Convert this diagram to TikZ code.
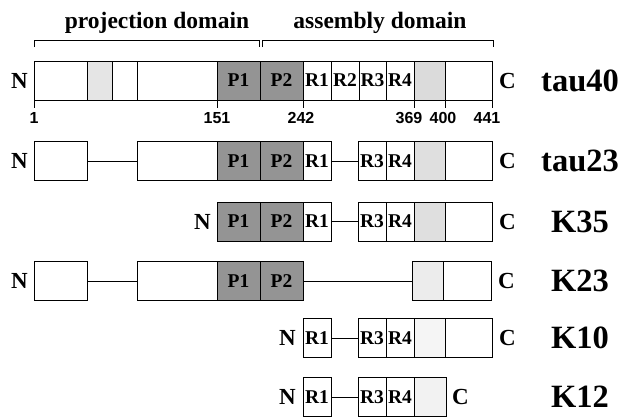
\documentclass[tikz,border=0pt]{standalone}
\usepackage{fontspec}
\setmainfont{Liberation Serif}
\newfontfamily\numfont{Liberation Sans}
\usetikzlibrary{positioning}

\begin{document}
\begin{tikzpicture}[x=1pt, y=-1pt,
    seg/.style = {draw, line width=1pt, minimum height=39pt, inner sep=0pt, outer sep=0pt,
      font=\bfseries\fontsize{19.5}{19.5}\selectfont},
    pdom/.style = {seg, fill=black!42},
    spk/.style = {seg, fill=gray!#1},
    link/.style = {line width=1pt},
    endlab/.style = {inner sep=0pt, font=\bfseries\fontsize{23}{23}\selectfont},
    protlab/.style = {inner sep=0pt, font=\bfseries\fontsize{32.5}{32.5}\selectfont},
    numlab/.style = {inner sep=0pt, font=\numfont\bfseries\fontsize{16}{16}\selectfont},
    headlab/.style = {inner sep=0pt, font=\bfseries\fontsize{23.5}{23.5}\selectfont}]
    \useasboundingbox (0,0) rectangle (621,418);

    % domains
    \node[headlab, anchor=base] (proj) at (157,28) {projection domain};
    \node[headlab, anchor=base] (asm) at (380,28) {assembly domain};
    \draw[line width=0.8pt] (34,47) -- (34,40) -- (259,40) -- (259,47);
    \draw[line width=0.8pt] (262,47) -- (262,40) -- (493,40) -- (493,47);

    % tau40
    \node[seg, minimum width=53pt, anchor=west] (a-1) at (34,80.5) {};
    \node[spk=20, minimum width=25pt, right=0pt of a-1] (a-2) {};
    \node[seg, minimum width=25pt, right=0pt of a-2] (a-3) {};
    \node[seg, minimum width=80pt, right=0pt of a-3] (a-4) {};
    \node[pdom, minimum width=43pt, right=0pt of a-4] (a-p1) {P1};
    \node[pdom, minimum width=43pt, right=0pt of a-p1] (a-p2) {P2};
    \node[seg, minimum width=28pt, right=0pt of a-p2] (a-r1) {R1};
    \node[seg, minimum width=28pt, right=0pt of a-r1] (a-r2) {R2};
    \node[seg, minimum width=27pt, right=0pt of a-r2] (a-r3) {R3};
    \node[seg, minimum width=28pt, right=0pt of a-r3] (a-r4) {R4};
    \node[spk=28, minimum width=31pt, right=0pt of a-r4] (a-g) {};
    \node[seg, minimum width=47pt, right=0pt of a-g] (a-5) {};
    \node[endlab, left=6pt of a-1] (a-n) {N};
    \node[endlab, right=7pt of a-5] (a-c) {C};
    \node[protlab] (a-name) at (580,80.5) {tau40};

    % residue numbers
    \draw[link] (a-1.south west) -- ++(0,8) node[numlab, below=4pt] (n1) {1};
    \draw[link] (a-p1.south west) -- ++(0,8) node[numlab, below=4pt] (n151) {151};
    \draw[link] (a-r1.south west) -- ++(0,8) node[numlab, below=4pt, xshift=-2pt] (n242) {242};
    \draw[link] (a-g.south west) -- ++(0,8) node[numlab, below=4pt, xshift=-5pt] (n369) {369};
    \draw[link] (a-5.south west) -- ++(0,8) node[numlab, below=4pt, xshift=-2pt] (n400) {400};
    \draw[link] (a-5.south east) -- ++(0,8) node[numlab, below=4pt, xshift=-5pt] (n441) {441};

    % tau23
    \node[seg, minimum width=53pt, anchor=west] (b-1) at (34,161) {};
    \node[seg, minimum width=80pt, right=50pt of b-1] (b-2) {};
    \node[pdom, minimum width=43pt, right=0pt of b-2] (b-p1) {P1};
    \node[pdom, minimum width=43pt, right=0pt of b-p1] (b-p2) {P2};
    \node[seg, minimum width=28pt, right=0pt of b-p2] (b-r1) {R1};
    \node[seg, minimum width=28pt, right=27pt of b-r1] (b-r3) {R3};
    \node[seg, minimum width=28pt, right=0pt of b-r3] (b-r4) {R4};
    \node[spk=25, minimum width=31pt, right=0pt of b-r4] (b-g) {};
    \node[seg, minimum width=47pt, right=0pt of b-g] (b-5) {};
    \node[endlab, left=6pt of b-1] (b-n) {N};
    \node[endlab, right=7pt of b-5] (b-c) {C};
    \node[protlab] (b-name) at (580,161) {tau23};
    \draw[link] (b-1) -- (b-2);
    \draw[link] (b-r1) -- (b-r3);

    % K35
    \node[pdom, minimum width=43pt, anchor=west] (c-p1) at (217,221.5) {P1};
    \node[pdom, minimum width=43pt, right=0pt of c-p1] (c-p2) {P2};
    \node[seg, minimum width=28pt, right=0pt of c-p2] (c-r1) {R1};
    \node[seg, minimum width=28pt, right=27pt of c-r1] (c-r3) {R3};
    \node[seg, minimum width=28pt, right=0pt of c-r3] (c-r4) {R4};
    \node[spk=25, minimum width=31pt, right=0pt of c-r4] (c-g) {};
    \node[seg, minimum width=47pt, right=0pt of c-g] (c-5) {};
    \node[endlab, left=6pt of c-p1] (c-n) {N};
    \node[endlab, right=7pt of c-5] (c-c) {C};
    \node[protlab] (c-name) at (580,221.5) {K35};
    \draw[link] (c-r1) -- (c-r3);

    % K23
    \node[seg, minimum width=53pt, anchor=west] (d-1) at (34,281) {};
    \node[seg, minimum width=80pt, right=50pt of d-1] (d-2) {};
    \node[pdom, minimum width=43pt, right=0pt of d-2] (d-p1) {P1};
    \node[pdom, minimum width=43pt, right=0pt of d-p1] (d-p2) {P2};
    \node[spk=15, minimum width=31pt, right=109pt of d-p2] (d-g) {};
    \node[seg, minimum width=48pt, right=0pt of d-g] (d-5) {};
    \node[endlab, left=6pt of d-1] (d-n) {N};
    \node[endlab, right=7pt of d-5] (d-c) {C};
    \node[protlab] (d-name) at (580,281) {K23};
    \draw[link] (d-1) -- (d-2);
    \draw[link] (d-p2) -- (d-g);

    % K10
    \node[seg, minimum width=28pt, anchor=west] (e-r1) at (303,338) {R1};
    \node[seg, minimum width=28pt, right=27pt of e-r1] (e-r3) {R3};
    \node[seg, minimum width=28pt, right=0pt of e-r3] (e-r4) {R4};
    \node[spk=8, minimum width=31pt, right=0pt of e-r4] (e-g) {};
    \node[seg, minimum width=47pt, right=0pt of e-g] (e-5) {};
    \node[endlab, left=7pt of e-r1] (e-n) {N};
    \node[endlab, right=7pt of e-5] (e-c) {C};
    \node[protlab] (e-name) at (580,338) {K10};
    \draw[link] (e-r1) -- (e-r3);

    % K12
    \node[seg, minimum width=28pt, anchor=west] (f-r1) at (303,397) {R1};
    \node[seg, minimum width=28pt, right=27pt of f-r1] (f-r3) {R3};
    \node[seg, minimum width=28pt, right=0pt of f-r3] (f-r4) {R4};
    \node[spk=10, minimum width=32pt, right=0pt of f-r4] (f-g) {};
    \node[endlab, left=7pt of f-r1] (f-n) {N};
    \node[endlab, right=6pt of f-g] (f-c) {C};
    \node[protlab] (f-name) at (580,397) {K12};
    \draw[link] (f-r1) -- (f-r3);
\end{tikzpicture}
\end{document}
